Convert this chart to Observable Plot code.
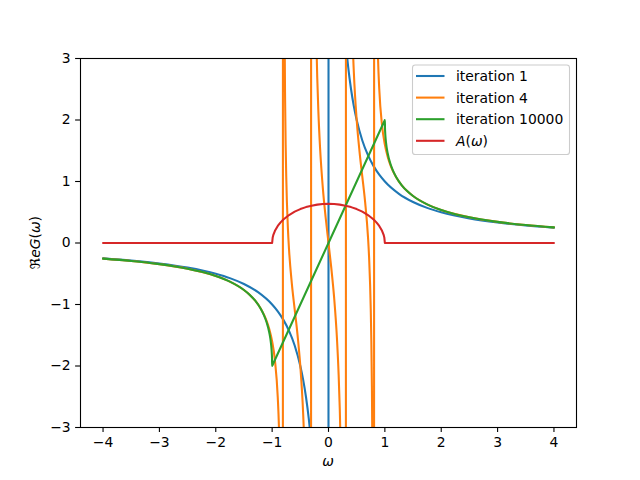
<!DOCTYPE html>
<html><head><meta charset="utf-8">
<script src="https://cdn.jsdelivr.net/npm/d3@7"></script>
<script src="https://cdn.jsdelivr.net/npm/@observablehq/plot@0.6"></script>
<style>body{margin:0;background:#fff} svg{display:block}</style>
</head><body><div id="chart"></div>
<script>
// iteration 1
const wBlue = [-4,-3.5,-3,-2.5,-2,-1.75,-1.5,-1.25,-1,-0.9,-0.8,-0.7,-0.6,-0.5,-0.45,-0.4,-0.35,-0.3,-0.25,-0.2,-0.1,-0.01,
  0.01,0.1,0.2,0.25,0.3,0.35,0.4,0.45,0.5,0.6,0.7,0.8,0.9,1,1.25,1.5,1.75,2,2.5,3,3.5,4];
const gBlue = [-0.25,-0.2857,-0.3333,-0.4,-0.5,-0.5714,-0.6667,-0.8,-1,-1.1111,-1.25,-1.4286,-1.6667,-2,-2.2222,-2.5,-2.8571,-3.3333,-4,-5,-10,-100,
  100,10,5,4,3.3333,2.8571,2.5,2.2222,2,1.6667,1.4286,1.25,1.1111,1,0.8,0.6667,0.5714,0.5,0.4,0.3333,0.2857,0.25];

// iteration 4
const wOrange = [-4,-3.5,-3,-2.5,-2,-1.75,-1.5,-1.4,-1.3,-1.2,-1.1,-1.05,-1,-0.95,-0.9,-0.88,-0.85,-0.82,-0.813,
  -0.805,-0.8,-0.79,-0.78,-0.77,-0.76,-0.75,-0.72,-0.7,-0.65,-0.6,-0.55,-0.5,-0.45,-0.42,-0.4,-0.37,-0.35,-0.33,-0.32,-0.313,
  -0.305,-0.3,-0.28,-0.25,-0.22,-0.2,-0.18,-0.15,-0.1,-0.05,0,0.05,0.1,0.15,0.18,0.2,0.22,0.25,0.28,0.3,0.305,
  0.313,0.32,0.33,0.35,0.37,0.4,0.42,0.45,0.5,0.55,0.6,0.65,0.7,0.72,0.75,0.76,0.77,0.78,0.79,0.8,0.805,
  0.813,0.82,0.85,0.88,0.9,0.95,1,1.05,1.1,1.2,1.3,1.4,1.5,1.75,2,2.5,3,3.5,4];
const gOrange = [-0.254,-0.2918,-0.3431,-0.4174,-0.5359,-0.6277,-0.7636,-0.8397,-0.937,-1.0681,-1.2615,-1.4023,-1.6,-1.9106,-2.5113,-2.9667,-4.436,-13.7,-35.8,
  33.26,14.18,6.1,3.575,2.334,1.5906,1.0909,0.2302,-0.1079,-0.664,-1.0783,-1.4907,-2,-2.768,-3.5135,-4.263,-6.268,-9.195,-17.64,-33.36,-91.3,
  89.6,39.7,11.99,5.6,3.4808,2.698,2.1444,1.5526,0.8893,0.4103,0,-0.4103,-0.8893,-1.5526,-2.1444,-2.698,-3.4808,-5.6,-11.99,-39.7,-89.6,
  91.3,33.36,17.64,9.195,6.268,4.263,3.5135,2.768,2,1.4907,1.0783,0.664,0.1079,-0.2302,-1.0909,-1.5906,-2.334,-3.575,-6.1,-14.18,-33.26,
  35.8,13.7,4.436,2.9667,2.5113,1.9106,1.6,1.4023,1.2615,1.0681,0.937,0.8397,0.7636,0.6277,0.5359,0.4174,0.3431,0.2918,0.254];

// iteration 10000
const wGreen = [-4,-3.5,-3,-2.75,-2.5,-2.25,-2,-1.75,-1.5,-1.4,-1.3,-1.2,-1.15,-1.1,-1.05,-1.02,-1.01,-1.005,-1.002,-1,-0.99,-0.5,0,
  0.5,0.99,1,1.002,1.005,1.01,1.02,1.05,1.1,1.15,1.2,1.3,1.4,1.5,1.75,2,2.25,2.5,2.75,3,3.5,4];
const gGreen = [-0.254,-0.2918,-0.3431,-0.3765,-0.4174,-0.4689,-0.5359,-0.6277,-0.7639,-0.8404,-0.9387,-1.0733,-1.1642,-1.2835,-1.4597,-1.638,-1.7365,-1.8098,-1.8774,-2,-1.98,-1,0,
  1,1.98,2,1.8774,1.8098,1.7365,1.638,1.4597,1.2835,1.1642,1.0733,0.9387,0.8404,0.7639,0.6277,0.5359,0.4689,0.4174,0.3765,0.3431,0.2918,0.254];

// A(omega)
const wRed = [-4,-1,-0.99,-0.98,-0.95,-0.9,-0.85,-0.8,-0.7,-0.6,-0.5,-0.4,-0.3,-0.2,-0.1,0,0.1,0.2,0.3,0.4,0.5,0.6,0.7,0.8,0.85,0.9,0.95,0.98,0.99,1,4];
const gRed = [0,0,0.0898,0.1267,0.1988,0.2775,0.3353,0.382,0.4546,0.5093,0.5513,0.5835,0.6073,0.6237,0.6334,0.6366,0.6334,0.6237,0.6073,0.5835,0.5513,0.5093,0.4546,0.382,0.3353,0.2775,0.1988,0.1267,0.0898,0,0];

const xTicks = [-4,-3,-2,-1,0,1,2,3,4];
const yTicks = [-3,-2,-1,0,1,2,3];

const series = [
  {label:[["iteration 1",""]], color:"#1f77b4", w:wBlue, g:gBlue, curve:"monotone-x"},
  {label:[["iteration 4",""]], color:"#ff7f0e", w:wOrange, g:gOrange, curve:"monotone-x"},
  {label:[["iteration 10000",""]], color:"#2ca02c", w:wGreen, g:gGreen, curve:"monotone-x"},
  {label:[["A","italic"],["(",""],["ω","italic"],[")",""]], color:"#d62728", w:wRed, g:gRed, curve:"linear"}
];
const rows = s => s.w.map((w,i)=>({w, g:s.g[i]}));

const plot = Plot.plot({
  width:640, height:480,
  marginLeft:80, marginRight:64, marginTop:58, marginBottom:53,
  style:{fontFamily:"'DejaVu Sans', sans-serif", fontSize:"13.9px", background:"white", color:"black"},
  x:{domain:[-4.4,4.4]},
  y:{domain:[-3,3]},
  marks:[
    ...series.map(s => Plot.line(rows(s), {x:"w", y:"g", stroke:s.color, strokeWidth:2.08, curve:s.curve, clip:true, strokeLinejoin:"round"})),
    Plot.frame({stroke:"black", strokeWidth:1.1}),
    Plot.axisX({ticks:xTicks, tickSize:4.9, tickPadding:4.9, strokeWidth:1.1, label:null, tickFormat:d3.format("d")}),
    Plot.axisY({ticks:yTicks, tickSize:4.9, tickPadding:4.9, strokeWidth:1.1, label:null, tickFormat:d3.format("d")})
  ]
});

const svg = d3.select(plot);
const F = "'DejaVu Sans', sans-serif";
// x label
svg.append("text").attr("x",328).attr("y",466).attr("text-anchor","middle")
  .attr("font-family",F).attr("font-size","13.9px").attr("font-style","italic").text("ω");
// y label
const yl = svg.append("text").attr("transform","translate(40,242.5) rotate(-90)").attr("text-anchor","middle")
  .attr("font-family",F).attr("font-size","13.9px");
[["ℜ",""],["eG","italic"],["(",""],["ω","italic"],[")",""]].forEach(([t,st])=>{
  const ts = yl.append("tspan").text(t); if (st) ts.attr("font-style",st);
});
// legend
const lg = svg.append("g");
lg.append("rect").attr("x",412.5).attr("y",65).attr("width",157).attr("height",89.5).attr("rx",2.8)
  .attr("fill","white").attr("fill-opacity",0.8).attr("stroke","#cccccc").attr("stroke-width",1.1);
series.forEach((s,i)=>{
  const y = 76 + i*21.6;
  lg.append("line").attr("x1",416).attr("x2",444.5).attr("y1",y).attr("y2",y)
    .attr("stroke",s.color).attr("stroke-width",2.08);
  const t = lg.append("text").attr("x",456).attr("y",y+5).attr("text-anchor","start")
    .attr("font-family",F).attr("font-size","13.9px");
  s.label.forEach(([txt,st])=>{ const ts=t.append("tspan").text(txt); if (st) ts.attr("font-style",st); });
});
document.getElementById("chart").appendChild(plot);
</script></body></html>
